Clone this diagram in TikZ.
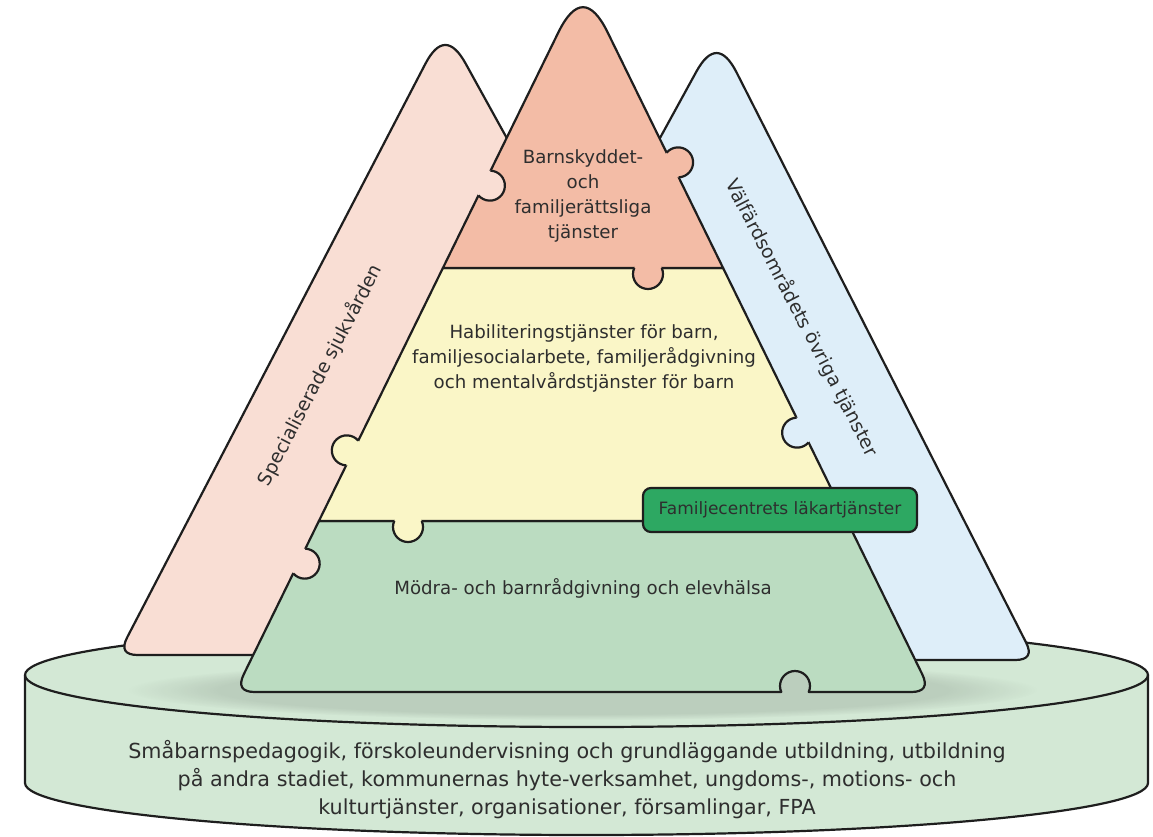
\documentclass[tikz,border=0pt]{standalone}
\usepackage{fontspec}
\setmainfont{DejaVu Sans}
\usetikzlibrary{fadings}
\definecolor{basegreen}{HTML}{D3E8D5}
\definecolor{greenpiece}{HTML}{BBDCC1}
\definecolor{yellowpiece}{HTML}{FAF6C7}
\definecolor{salmon}{HTML}{F3BCA6}
\definecolor{pinkband}{HTML}{F9DED4}
\definecolor{blueband}{HTML}{DEEEF9}
\definecolor{labelgreen}{HTML}{2DA862}
\definecolor{outline}{HTML}{1E1E1E}
\definecolor{textgray}{HTML}{2E2E2E}
\tikzset{
  edge/.style={draw=outline, line width=2.2pt, line join=round},
  midtext/.style={align=center, text=textgray, font=\fontsize{18.2}{25}\selectfont},
  bandtext/.style={text=textgray, font=\fontsize{18.8}{25}\selectfont},
}
% puzzle knob: point on the edge, direction it sticks out, colour of its piece
\newcommand\knob[3]{%
  \fill[#3] (#1) ++(#2:6) circle[radius=15];
  \draw[edge] (#1) ++(#2:6) ++(#2-113.6:15) arc[start angle=#2-113.6, end angle=#2+113.6, radius=15];
}
\begin{document}
\begin{tikzpicture}[x=1pt,y=-1pt]
  \useasboundingbox (0,0) rectangle (1153,836);
  % base
  \filldraw[edge, fill=basegreen] (25,675) -- (25,783) arc[start angle=180, end angle=0, x radius=561.5, y radius=52]
    -- (1148,675) arc[start angle=0, end angle=-180, x radius=561.5, y radius=52] -- cycle;
  \draw[edge] (25,675) arc[start angle=180, end angle=0, x radius=561.5, y radius=52];
  \fill[black, opacity=0.11, path fading=circle with fuzzy edge 20 percent] (583,690) ellipse[x radius=455, y radius=30];
  % side bands
  \filldraw[edge, fill=pinkband] (541,200) -- (465.7,63.7) .. controls (451.9,38.6) and (438.4,38.7) .. (425.2,64.1)
    -- (127.2,637.3) .. controls (121.1,649.1) and (124.7,655) .. (138,655) -- (330,655) -- cycle;
  \filldraw[edge, fill=blueband] (626,200) -- (696.3,71.7) .. controls (710.1,46.6) and (723.5,46.8) .. (736.5,72.3)
    -- (1025.9,642.2) .. controls (1032,654.1) and (1028.3,660) .. (1015,660) -- (850,660) -- cycle;
  % pyramid
  \filldraw[edge, fill=greenpiece] (318.9,521) -- (243.9,674) .. controls (238,686) and (241.7,692) .. (255,692)
    -- (781.25,692) arc[start angle=156.4, end angle=383.6, radius=15]
    -- (911,692) .. controls (924.3,692) and (928,686) .. (922.1,674) -- (847.1,521) -- cycle;
  \filldraw[edge, fill=yellowpiece] (442.9,268) -- (318.9,521) -- (847.1,521) -- (723.1,268) -- cycle;
  \filldraw[edge, fill=salmon] (442.9,268) -- (558.4,32.3) .. controls (574.8,-1.2) and (591.2,-1.2) .. (607.6,32.3)
    -- (723.1,268) -- cycle;
  % knobs
  \knob{484.5,183}{26.1}{pinkband}
  \knob{672.7,165}{-26.1}{salmon}
  \knob{648,268}{90}{salmon}
  \knob{352.2,453}{206.1}{yellowpiece}
  \knob{802.5,430}{153.9}{blueband}
  \knob{408,521}{90}{yellowpiece}
  \knob{299.3,561}{26.1}{pinkband}
  % texts
  \node[midtext] (barnskydd) at (583,196) {Barnskyddet-\\och\\familjerättsliga\\tjänster};
  \node[midtext] (habilitering) at (584,358) {Habiliteringstjänster för barn,\\familjesocialarbete, familjerådgivning\\och mentalvårdstjänster för barn};
  \node[midtext] (modra) at (583,588) {Mödra- och barnrådgivning och elevhälsa};
  \node[edge, fill=labelgreen, rounded corners=8pt, minimum width=274pt, minimum height=44pt,
    text=textgray, font=\fontsize{17}{20}\selectfont] (lakare) at (780,510) {Familjecentrets läkartjänster};
  \node[bandtext, rotate=62.5] (sjukvard) at (320,375) {Specialiserade sjukvården};
  \node[bandtext, rotate=-62.6] (valfard) at (802,318) {Välfärdsområdets övriga tjänster};
  \node[align=center, text=textgray, font=\fontsize{20.7}{28}\selectfont] (bas) at (567,780)
    {Småbarnspedagogik, förskoleundervisning och grundläggande utbildning, utbildning\\på andra stadiet, kommunernas hyte-verksamhet, ungdoms-, motions- och\\kulturtjänster, organisationer, församlingar, FPA};
\end{tikzpicture}
\end{document}
